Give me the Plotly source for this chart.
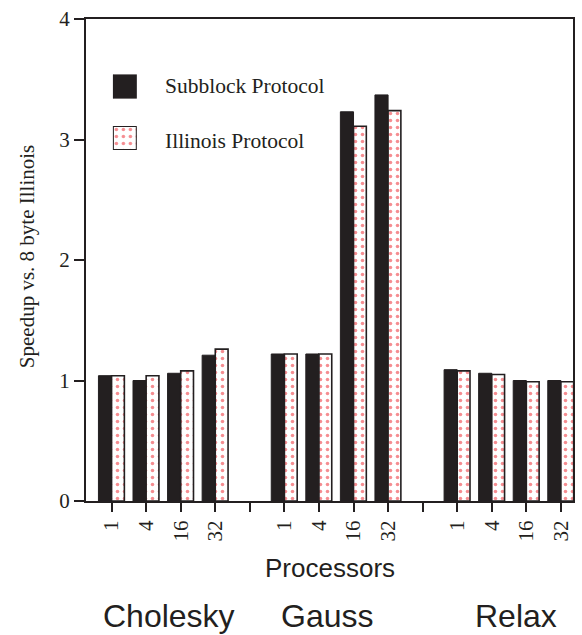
import plotly.graph_objects as go

benchmarks = ["Cholesky", "Gauss", "Relax"]
processors = ["1", "4", "16", "32"]
subblock = [1.04, 1.00, 1.06, 1.21,
            1.22, 1.22, 3.23, 3.37,
            1.09, 1.06, 1.00, 1.00]
illinois = [1.04, 1.04, 1.08, 1.26,
            1.22, 1.22, 3.11, 3.24,
            1.08, 1.05, 0.99, 0.99]
yticks = [0, 1, 2, 3, 4]

DARK = "#231f20"
RED = "#ec1c24"
SERIF = "Liberation Serif"
SANS = "Liberation Sans"

# slot positions: 4 processor counts per benchmark, one empty slot between groups
xpos = [g * 5 + i for g in range(len(benchmarks)) for i in range(len(processors))]
tickvals = list(range(len(benchmarks) * 5 - 1))
ticktext = []
for g in range(len(benchmarks)):
    ticktext += processors
    if g < len(benchmarks) - 1:
        ticktext.append("")

dots = dict(shape=".", fgcolor=RED, bgcolor="white", size=7, solidity=0.2, fillmode="overlay")

fig = go.Figure()
fig.add_trace(go.Bar(
    x=xpos, y=subblock, name="Subblock Protocol",
    width=0.38, offset=-0.38,
    marker=dict(color=DARK, line=dict(color=DARK, width=1)),
    showlegend=False, xaxis="x", yaxis="y",
))
fig.add_trace(go.Bar(
    x=xpos, y=illinois, name="Illinois Protocol",
    width=0.37, offset=0.0,
    marker=dict(color="white", line=dict(color=DARK, width=1.6), pattern=dots),
    showlegend=False, xaxis="x", yaxis="y",
))

# legend swatches drawn as bars on small helper axes
fig.add_trace(go.Bar(
    x=[0], y=[1], width=1, showlegend=False, hoverinfo="skip",
    marker=dict(color=DARK, line=dict(color=DARK, width=1)),
    xaxis="x2", yaxis="y2",
))
fig.add_trace(go.Bar(
    x=[0], y=[1], width=1, showlegend=False, hoverinfo="skip",
    marker=dict(color="white", line=dict(color=DARK, width=2), pattern=dots),
    xaxis="x3", yaxis="y3",
))

axis_common = dict(showline=True, linewidth=2, linecolor=DARK, mirror=True,
                   ticks="outside", tickwidth=2, tickcolor=DARK,
                   showgrid=False, zeroline=False,
                   tickfont=dict(family=SERIF, size=21, color=DARK))

hidden = dict(visible=False, fixedrange=True)

fig.update_layout(
    width=582, height=635,
    margin=dict(l=86, r=7, t=15, b=134),
    paper_bgcolor="white", plot_bgcolor="white",
    barmode="overlay",
    xaxis=dict(range=[-0.74, 13.35], tickvals=tickvals, ticktext=ticktext,
               tickangle=-90, ticklen=9, **axis_common),
    yaxis=dict(range=[0, 4], tickvals=yticks, ticklen=10, **axis_common),
    xaxis2=dict(domain=[0.0552, 0.1043], range=[-0.5, 0.5], anchor="y2", **hidden),
    yaxis2=dict(domain=[0.835, 0.885], range=[0, 1], anchor="x2", **hidden),
    xaxis3=dict(domain=[0.0552, 0.1043], range=[-0.5, 0.5], anchor="y3", **hidden),
    yaxis3=dict(domain=[0.728, 0.778], range=[0, 1], anchor="x3", **hidden),
    annotations=[
        dict(text="Speedup vs. 8 byte Illinois", textangle=-90, xref="paper", yref="paper",
             x=-0.121, y=0.506, xanchor="center", yanchor="middle", showarrow=False,
             font=dict(family=SERIF, size=21, color=DARK)),
        dict(text="Subblock Protocol", xref="paper", yref="paper", x=0.1575, y=0.860,
             xanchor="left", yanchor="middle", showarrow=False,
             font=dict(family=SERIF, size=21.5, color=DARK)),
        dict(text="Illinois Protocol", xref="paper", yref="paper", x=0.1575, y=0.747,
             xanchor="left", yanchor="middle", showarrow=False,
             font=dict(family=SERIF, size=21.5, color=DARK)),
        dict(text="Processors", xref="paper", yref="paper", x=(331.5 - 86) / 489, y=-0.138,
             xanchor="center", yanchor="middle", showarrow=False,
             font=dict(family=SANS, size=26, color=DARK)),
        dict(text=benchmarks[0], xref="x", yref="paper", x=1.65, y=-0.238,
             xanchor="center", yanchor="middle", showarrow=False,
             font=dict(family=SANS, size=32, color=DARK)),
        dict(text=benchmarks[1], xref="x", yref="paper", x=6.23, y=-0.238,
             xanchor="center", yanchor="middle", showarrow=False,
             font=dict(family=SANS, size=32, color=DARK)),
        dict(text=benchmarks[2], xref="x", yref="paper", x=11.69, y=-0.238,
             xanchor="center", yanchor="middle", showarrow=False,
             font=dict(family=SANS, size=32, color=DARK)),
    ],
)

fig.write_html("out.html")
